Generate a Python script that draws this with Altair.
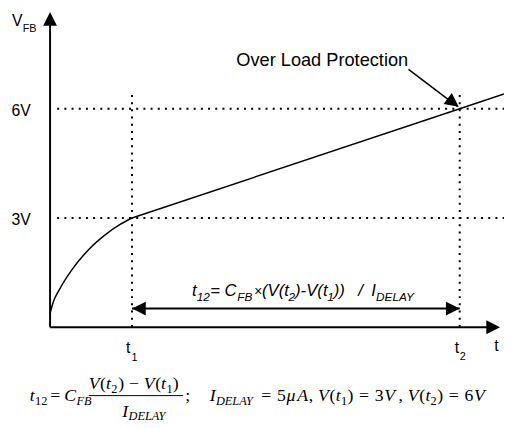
import altair as alt
import pandas as pd

# ---- scales (t in units where t1=1, t2=5 ; V in volts) ----
T_DOM = [-0.5135, 5.5405]
V_DOM = [-2.6757, 8.6757]

# ---- waveform ----
curve_t = [0.0, 0.04, 0.11, 0.27, 0.47, 0.68, 0.86, 1.0]
curve_v = [0.38, 0.70, 1.02, 1.59, 2.13, 2.55, 2.83, 3.0]
ramp_t = [1.0, 5.0, 5.54]
ramp_v = [3.0, 6.0, 6.405]

# ---- solid rules: t, t2, v, v2, width ----
solid_rules = [
    (0.0, 0.0, 0.0, 8.42, 2.0),          # V axis
    (0.0, 5.40, 0.0, 0.0, 2.0),          # t axis
    (1.0, 5.0, 0.514, 0.514, 2.0),       # t12 double arrow
    (4.375, 4.975, 7.081, 6.06, 1.5),    # OLP pointer
    (0.4715, 1.6246, -1.878, -1.878, 1.0),  # fraction bar
]
# ---- dotted guide lines ----
dotted_rules = [
    (0.087, 5.54, 6.0, 6.0),
    (0.087, 5.54, 3.0, 3.0),
    (1.0, 1.0, 6.378, -0.05),
    (5.0, 5.0, 6.378, -0.05),
]
# ---- arrow heads: tip t, tip v, angle ----
heads = [
    (0.0, 8.66, 0),
    (5.4925, 0.0, 90),
    (1.0, 0.514, 270),
    (5.0, 0.514, 90),
    (4.988, 6.054, 126.7),
]

# ---- text pieces: text, t, v, size ----
sans_normal = [
    ("V", -0.4655, 8.270, 16), ("FB", -0.3333, 8.108, 11),
    ("6V", -0.4715, 5.797, 16), ("3V", -0.4715, 2.797, 16),
    ("t", 0.928, -0.703, 16), ("1", 0.994, -0.919, 11),
    ("t", 4.940, -0.703, 16), ("2", 5.000, -0.892, 11),
    ("t", 5.420, -0.649, 16),
    ("Over Load Protection", 2.273, 7.176, 18.5),
]
MB, SB = 0.865, 0.730   # main / subscript baselines of the t12 annotation
sans_italic = [
    ("t", 1.7327, MB, 17), ("12", 1.7892, SB, 12),
    ("=", 1.9550, MB, 17), ("C", 2.1303, MB, 17), ("FB", 2.2853, SB, 12),
    ("×", 2.4895, MB, 14), ("(V(t", 2.5856, MB, 17),
    ("2", 2.9099, SB, 12), (")-", 2.9880, MB, 17),
    ("V(t", 3.1261, MB, 17), ("1", 3.3844, SB, 12),
    ("))", 3.4625, MB, 17), ("/", 3.7628, MB, 17),
    ("I", 3.9189, MB, 17), ("DELAY", 3.9790, SB, 12),
]
RA, RAS = -2.027, -2.135   # row baseline / subscript baseline
NU, NUS = -1.703, -1.811   # numerator
serif_italic = [
    ("t", -0.2492, RA, 18), ("C", 0.1718, RA, 18), ("FB", 0.3213, RAS, 12.5),
    ("V", 0.4715, NU, 18), ("t", 0.6817, NU, 18),
    ("V", 1.1441, NU, 18), ("t", 1.3544, NU, 18),
    ("I", 0.8799, -2.459, 18), ("DELAY", 0.9580, -2.541, 12.5),
    ("I", 1.9489, RA, 18), ("DELAY", 2.0246, RAS, 12.5),
    ("μ", 2.8859, RA, 18), ("A", 3.0168, RA, 18),
    ("V", 3.2703, RA, 18), ("t", 3.4865, RA, 18),
    ("V", 4.0775, RA, 18),
    ("V", 4.3658, RA, 18), ("t", 4.5820, RA, 18),
    ("V", 5.1730, RA, 18),
]
serif_upright = [
    ("12", -0.1832, RAS, 12.5), ("=", 0.0030, RA, 18),
    ("(", 0.6096, NU, 18), ("2", 0.7477, NUS, 12.5), (")", 0.8318, NU, 18),
    ("−", 0.9640, NU, 18),
    ("(", 1.2823, NU, 18), ("1", 1.4204, NUS, 12.5), (")", 1.4985, NU, 18),
    (";", 1.6486, RA, 18),
    ("=", 2.5784, RA, 18), ("5", 2.7706, RA, 18), (",", 3.1562, RA, 18),
    ("(", 3.4108, RA, 18), ("1", 3.5502, RAS, 12.5), (")", 3.6306, RA, 18),
    ("=", 3.7700, RA, 18), ("3", 3.9634, RA, 18), (",", 4.2517, RA, 18),
    ("(", 4.5051, RA, 18), ("2", 4.6444, RAS, 12.5), (")", 4.7249, RA, 18),
    ("=", 4.8655, RA, 18), ("6", 5.0589, RA, 18),
]


def X(f="t"):
    return alt.X(f"{f}:Q", scale=alt.Scale(domain=T_DOM, nice=False, zero=False), axis=None)


def Y(f="v"):
    return alt.Y(f"{f}:Q", scale=alt.Scale(domain=V_DOM, nice=False, zero=False), axis=None)


curve_df = pd.DataFrame({"t": curve_t, "v": curve_v})
ramp_df = pd.DataFrame({"t": ramp_t, "v": ramp_v})
solid_df = pd.DataFrame(solid_rules, columns=["t", "t2", "v", "v2", "w"])
dot_df = pd.DataFrame(dotted_rules, columns=["t", "t2", "v", "v2"])
head_df = pd.DataFrame(heads, columns=["t", "v", "ang"])

curve = alt.Chart(curve_df).mark_line(interpolate="monotone", color="black", strokeWidth=1.5).encode(x=X(), y=Y())
ramp = alt.Chart(ramp_df).mark_line(color="black", strokeWidth=1.5).encode(x=X(), y=Y())

solid = alt.Chart(solid_df).mark_rule(color="black").encode(
    x=X(), x2="t2:Q", y=Y(), y2="v2:Q",
    strokeWidth=alt.StrokeWidth("w:Q", scale=None),
)
dotted = alt.Chart(dot_df).mark_rule(color="black", strokeWidth=2, strokeDash=[2, 5.3]).encode(
    x=X(), x2="t2:Q", y=Y(), y2="v2:Q"
)
arrowheads = alt.Chart(head_df).mark_point(
    shape="M0,0L1,2L-1,2Z", filled=True, size=196, color="black", opacity=1, strokeWidth=0
).encode(x=X(), y=Y(), angle=alt.Angle("ang:Q", scale=None))


def text_layer(rows, font, style):
    df = pd.DataFrame(rows, columns=["txt", "t", "v", "size"])
    return alt.Chart(df).mark_text(
        align="left", baseline="alphabetic", font=font, fontStyle=style, color="black"
    ).encode(x=X(), y=Y(), text="txt:N", size=alt.Size("size:Q", scale=None))


texts = [
    text_layer(sans_normal, "Liberation Sans", "normal"),
    text_layer(sans_italic, "Liberation Sans", "italic"),
    text_layer(serif_italic, "Liberation Serif", "italic"),
    text_layer(serif_upright, "Liberation Serif", "normal"),
]

chart = alt.layer(dotted, curve, ramp, solid, arrowheads, *texts).properties(
    width=504, height=420, autosize=alt.AutoSizeParams(type="none"), padding=0
).configure_view(strokeWidth=0)

chart.save("out.html", embed_options={"renderer": "svg", "actions": False})
